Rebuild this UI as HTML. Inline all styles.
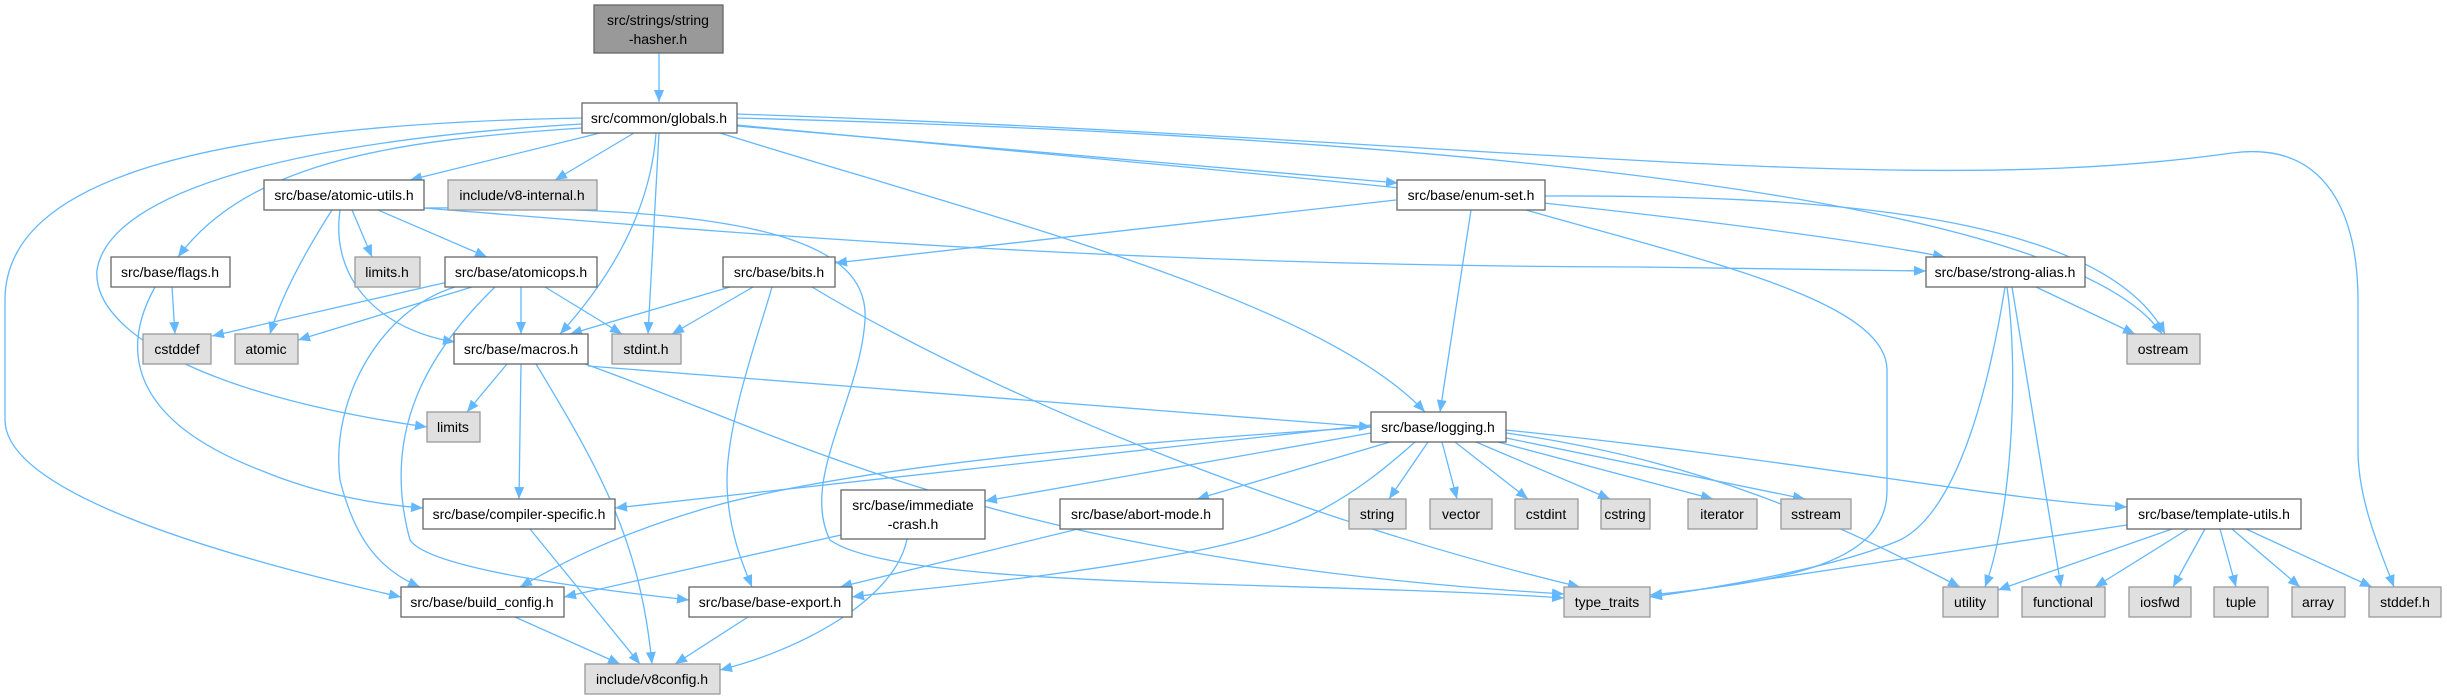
<!DOCTYPE html>
<html><head><meta charset="utf-8"><style>
html,body{margin:0;padding:0;background:#fff;}
svg{display:block;}
text{font-family:"Liberation Sans",sans-serif;font-size:14px;fill:#000;text-anchor:middle;}
.w{fill:#fff;stroke:#666;stroke-width:1.3;}
.g{fill:#e0e0e0;stroke:#999;stroke-width:1.3;}
.h{fill:#999;stroke:#666;stroke-width:1.3;}
.e{fill:none;stroke:#63b8ff;stroke-width:1.3;marker-end:url(#a);}
</style></head><body>
<svg width="2447" height="700" viewBox="0 0 2447 700" xmlns="http://www.w3.org/2000/svg">
<defs><marker id="a" markerUnits="userSpaceOnUse" markerWidth="14" markerHeight="12" refX="12" refY="5" orient="auto"><path d="M0,0 L12,5 L0,10 z" fill="#63b8ff"/></marker></defs>
<g>
<path class="e" d="M659 53 L659 102"/>
<path class="e" d="M600 133 L410 180"/>
<path class="e" d="M634 133 L555 180"/>
<path class="e" d="M582 128 C400 140,250 160,178 257"/>
<path class="e" d="M582 124 C300 140,110 190,97 270 C92 330,200 395,427 427"/>
<path class="e" d="M582 118 C200 125,5 180,5 300 L5 420 C5 480,150 540,401 597"/>
<path class="e" d="M656 133 C650 220,600 290,560 334"/>
<path class="e" d="M659 133 L648 334"/>
<path class="e" d="M737 126 L1398 183"/>
<path class="e" d="M720 133 C1000 220,1320 300,1425 412"/>
<path class="e" d="M737 125 C1100 160,1700 210,1945 257"/>
<path class="e" d="M737 118 C1200 130,2050 170,2162 334"/>
<path class="e" d="M737 114 C1500 140,1900 200,2232 153 C2330 140,2358 220,2358 300 L2358 450 C2358 500,2380 550,2394 587"/>
<path class="e" d="M332 210 C300 260,280 300,270 334"/>
<path class="e" d="M352 210 L372 257"/>
<path class="e" d="M378 210 L487 257"/>
<path class="e" d="M340 210 C330 280,380 330,455 342"/>
<path class="e" d="M424 208 C700 230,1100 266,1640 267 L1926 271"/>
<path class="e" d="M424 208 C750 205,870 240,865 320 C860 400,800 480,830 540 C900 590,1300 580,1564 598"/>
<path class="e" d="M448 282 L212 336"/>
<path class="e" d="M472 287 L298 340"/>
<path class="e" d="M521 287 L521 334"/>
<path class="e" d="M545 287 L622 334"/>
<path class="e" d="M455 287 C380 310,330 400,340 480 C355 540,380 570,420 587"/>
<path class="e" d="M495 287 C430 350,380 430,410 540 C430 570,600 590,689 600"/>
<path class="e" d="M172 287 L175 334"/>
<path class="e" d="M155 287 C120 350,130 420,260 470 C320 495,380 505,423 508"/>
<path class="e" d="M730 287 L570 334"/>
<path class="e" d="M753 287 L672 334"/>
<path class="e" d="M772 287 C760 330,727 420,727 480 C727 530,745 570,752 587"/>
<path class="e" d="M812 287 C1000 400,1300 520,1580 587"/>
<path class="e" d="M507 364 L467 412"/>
<path class="e" d="M521 364 L519 499"/>
<path class="e" d="M536 364 C600 470,640 540,652 664"/>
<path class="e" d="M588 366 L1371 427"/>
<path class="e" d="M585 364 C800 440,1000 560,1564 594"/>
<path class="e" d="M1371 425 L615 508"/>
<path class="e" d="M1371 427 C1000 450,800 480,700 510 C600 540,550 570,520 587"/>
<path class="e" d="M1371 433 L985 501"/>
<path class="e" d="M1390 442 L1197 499"/>
<path class="e" d="M1415 442 C1350 500,1300 530,1200 550 C1050 580,900 590,852 597"/>
<path class="e" d="M1428 442 L1389 499"/>
<path class="e" d="M1442 442 L1457 499"/>
<path class="e" d="M1455 442 L1528 499"/>
<path class="e" d="M1476 442 L1610 499"/>
<path class="e" d="M1498 442 L1713 499"/>
<path class="e" d="M1506 438 L1805 499"/>
<path class="e" d="M1506 433 C1700 460,1830 520,1960 587"/>
<path class="e" d="M1506 430 C1800 460,2000 500,2127 507"/>
<path class="e" d="M1396 200 L835 263"/>
<path class="e" d="M1471 210 L1440 412"/>
<path class="e" d="M1526 210 C1700 260,1887 300,1887 370 L1887 490 C1887 560,1800 580,1650 595"/>
<path class="e" d="M1544 196 C1800 195,2100 210,2165 334"/>
<path class="e" d="M2036 287 L2135 334"/>
<path class="e" d="M2007 287 C2020 380,2010 520,1985 587"/>
<path class="e" d="M2012 287 L2061 587"/>
<path class="e" d="M2005 287 C1990 380,1960 510,1900 540 C1830 570,1700 590,1650 597"/>
<path class="e" d="M2127 525 L1650 597"/>
<path class="e" d="M2172 529 L1998 590"/>
<path class="e" d="M2188 529 L2095 587"/>
<path class="e" d="M2205 529 L2173 587"/>
<path class="e" d="M2220 529 L2236 587"/>
<path class="e" d="M2232 529 L2300 587"/>
<path class="e" d="M2246 529 L2372 587"/>
<path class="e" d="M841 535 L564 597"/>
<path class="e" d="M907 539 C895 600,800 650,720 670"/>
<path class="e" d="M1078 529 L840 587"/>
<path class="e" d="M530 529 L640 664"/>
<path class="e" d="M515 617 L620 664"/>
<path class="e" d="M748 617 L675 664"/>
</g>
<g>
<rect class="h" x="594" y="5" width="129" height="48"/><text x="658" y="25">src/strings/string</text><text x="658" y="44">-hasher.h</text>
<rect class="w" x="582" y="103" width="155" height="30"/><text x="659" y="123">src/common/globals.h</text>
<rect class="w" x="264" y="180" width="160" height="30"/><text x="344" y="200">src/base/atomic-utils.h</text>
<rect class="g" x="448" y="180" width="149" height="30"/><text x="522" y="200">include/v8-internal.h</text>
<rect class="w" x="1397" y="180" width="148" height="30"/><text x="1471" y="200">src/base/enum-set.h</text>
<rect class="w" x="111" y="257" width="119" height="30"/><text x="170" y="277">src/base/flags.h</text>
<rect class="g" x="355" y="257" width="65" height="30"/><text x="387" y="277">limits.h</text>
<rect class="w" x="445" y="257" width="152" height="30"/><text x="521" y="277">src/base/atomicops.h</text>
<rect class="w" x="723" y="257" width="112" height="30"/><text x="779" y="277">src/base/bits.h</text>
<rect class="w" x="1926" y="257" width="159" height="30"/><text x="2005" y="277">src/base/strong-alias.h</text>
<rect class="g" x="143" y="334" width="68" height="30"/><text x="177" y="354">cstddef</text>
<rect class="g" x="235" y="334" width="63" height="30"/><text x="266" y="354">atomic</text>
<rect class="w" x="454" y="334" width="134" height="30"/><text x="521" y="354">src/base/macros.h</text>
<rect class="g" x="612" y="334" width="69" height="30"/><text x="646" y="354">stdint.h</text>
<rect class="g" x="2127" y="334" width="73" height="30"/><text x="2163" y="354">ostream</text>
<rect class="g" x="427" y="412" width="53" height="30"/><text x="453" y="432">limits</text>
<rect class="w" x="1371" y="412" width="135" height="30"/><text x="1438" y="432">src/base/logging.h</text>
<rect class="w" x="423" y="499" width="192" height="30"/><text x="519" y="519">src/base/compiler-specific.h</text>
<rect class="w" x="841" y="490" width="144" height="49"/><text x="913" y="510">src/base/immediate</text><text x="913" y="529">-crash.h</text>
<rect class="w" x="1060" y="499" width="163" height="30"/><text x="1141" y="519">src/base/abort-mode.h</text>
<rect class="g" x="1349" y="499" width="57" height="30"/><text x="1377" y="519">string</text>
<rect class="g" x="1430" y="499" width="62" height="30"/><text x="1461" y="519">vector</text>
<rect class="g" x="1515" y="499" width="63" height="30"/><text x="1546" y="519">cstdint</text>
<rect class="g" x="1601" y="499" width="49" height="30"/><text x="1625" y="519">cstring</text>
<rect class="g" x="1688" y="499" width="69" height="30"/><text x="1722" y="519">iterator</text>
<rect class="g" x="1781" y="499" width="70" height="30"/><text x="1816" y="519">sstream</text>
<rect class="w" x="2127" y="499" width="174" height="30"/><text x="2214" y="519">src/base/template-utils.h</text>
<rect class="w" x="401" y="587" width="163" height="30"/><text x="482" y="607">src/base/build_config.h</text>
<rect class="w" x="689" y="587" width="163" height="30"/><text x="770" y="607">src/base/base-export.h</text>
<rect class="g" x="1564" y="587" width="86" height="30"/><text x="1607" y="607">type_traits</text>
<rect class="g" x="1943" y="587" width="55" height="30"/><text x="1970" y="607">utility</text>
<rect class="g" x="2022" y="587" width="83" height="30"/><text x="2063" y="607">functional</text>
<rect class="g" x="2129" y="587" width="62" height="30"/><text x="2160" y="607">iosfwd</text>
<rect class="g" x="2214" y="587" width="54" height="30"/><text x="2241" y="607">tuple</text>
<rect class="g" x="2292" y="587" width="53" height="30"/><text x="2318" y="607">array</text>
<rect class="g" x="2369" y="587" width="72" height="30"/><text x="2405" y="607">stddef.h</text>
<rect class="g" x="585" y="664" width="135" height="30"/><text x="652" y="684">include/v8config.h</text>
</g>
</svg>
</body></html>
